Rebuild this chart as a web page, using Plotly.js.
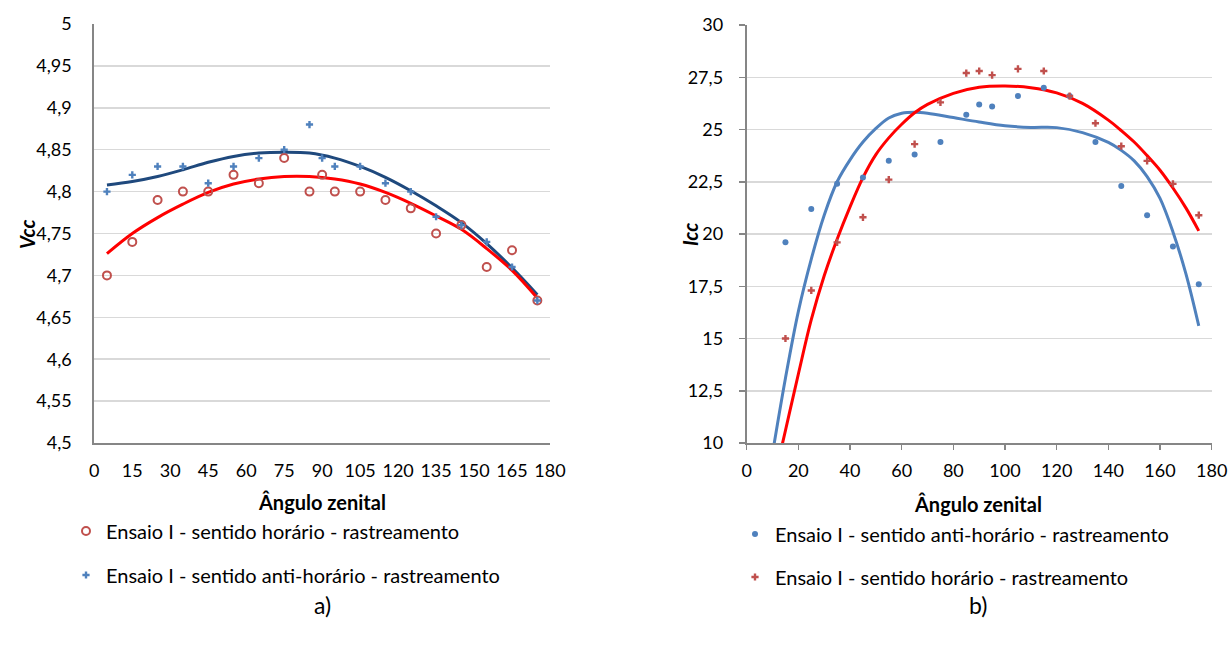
<!DOCTYPE html>
<html>
<head>
<meta charset="utf-8">
<script src="https://cdn.plot.ly/plotly-3.0.1.min.js"></script>
<style>
html,body{margin:0;padding:0;background:#fff;}
#chart{width:1231px;height:645px;}
</style>
</head>
<body>
<div id="chart"></div>
<script>
// ---------- Data: chart a) Vcc ----------
const anguloA = [5,15,25,35,45,55,65,75,85,90,95,105,115,125,135,145,155,165,175];
const vccHorario = [4.70,4.74,4.79,4.80,4.80,4.82,4.81,4.84,4.80,4.82,4.80,4.80,4.79,4.78,4.75,4.76,4.71,4.73,4.67];
const vccAntiHorario = [4.80,4.82,4.83,4.83,4.81,4.83,4.84,4.85,4.88,4.84,4.83,4.83,4.81,4.80,4.77,4.76,4.74,4.71,4.67];
// trendlines
const trendAngA = [5,15,25,35,45,55,65,75,85,95,105,115,125,135,145,155,165,175];
const trendVccAnti = [4.808,4.812,4.818,4.826,4.835,4.842,4.846,4.847,4.846,4.840,4.830,4.817,4.801,4.783,4.763,4.738,4.709,4.677];
const trendVccHor = [4.726,4.750,4.769,4.785,4.799,4.809,4.815,4.818,4.818,4.815,4.809,4.799,4.786,4.771,4.755,4.732,4.706,4.673];

// ---------- Data: chart b) Icc ----------
const anguloB = [15,25,35,45,55,65,75,85,90,95,105,115,125,135,145,155,165,175];
const iccAntiHorario = [19.6,21.2,22.4,22.7,23.5,23.8,24.4,25.7,26.2,26.1,26.6,27.0,26.6,24.4,22.3,20.9,19.4,17.6];
const iccHorario = [15.0,17.3,19.6,20.8,22.6,24.3,26.3,27.7,27.8,27.6,27.9,27.8,26.6,25.3,24.2,23.5,22.4,20.9];
const trendAngB = [10,15,20,25,30,35,40,45,50,55,60,65,70,80,90,100,110,120,130,140,145,150,155,160,165,170,175];
const trendIccAnti = [9.5,13.1,16.3,18.8,20.9,22.5,23.55,24.4,25.05,25.55,25.78,25.83,25.78,25.57,25.36,25.18,25.10,25.09,24.85,24.38,24.0,23.5,22.75,21.7,20.1,18.1,15.6];
const trendIccHor = [7.9,10.6,13.3,15.9,18.0,19.75,21.3,22.7,23.8,24.6,25.25,25.8,26.2,26.73,27.02,27.08,27.0,26.75,26.25,25.45,24.95,24.4,23.75,23.05,22.2,21.25,20.15];

// ---------- Tick labels ----------
const tickValsVcc = [4.5,4.55,4.6,4.65,4.7,4.75,4.8,4.85,4.9,4.95,5];
const tickTextVcc = ["4,5","4,55","4,6","4,65","4,7","4,75","4,8","4,85","4,9","4,95","5"];
const tickValsAngA = [0,15,30,45,60,75,90,105,120,135,150,165,180];
const tickValsIcc = [10,12.5,15,17.5,20,22.5,25,27.5,30];
const tickTextIcc = ["10","12,5","15","17,5","20","22,5","25","27,5","30"];
const tickValsAngB = [0,20,40,60,80,100,120,140,160,180];

const legendNames = {
  hor: "Ensaio I - sentido horário - rastreamento",
  anti: "Ensaio I - sentido anti-horário - rastreamento"
};
const titleX = "Ângulo zenital";
const titleVcc = "Vcc", titleIcc = "Icc";

const RED_M = "#C0504D", BLUE_M = "#4F81BD", NAVY = "#1F497D", RED_T = "#FF0000";
const FONT = "Lato, 'Open Sans', sans-serif";
const W = 1231, H = 645;
const px = v => v / W, py = v => 1 - v / H;

const traces = [
  {x: trendAngA, y: trendVccAnti, xaxis:'x', yaxis:'y', mode:'lines', line:{color:NAVY, width:3, shape:'spline'}, showlegend:false, hoverinfo:'skip'},
  {x: trendAngA, y: trendVccHor, xaxis:'x', yaxis:'y', mode:'lines', line:{color:RED_T, width:3, shape:'spline'}, showlegend:false, hoverinfo:'skip'},
  {x: anguloA, y: vccHorario, xaxis:'x', yaxis:'y', mode:'markers', name: legendNames.hor, legend:'legend',
   marker:{symbol:'circle-open', size:8, color:RED_M, line:{width:2, color:RED_M}}},
  {x: anguloA, y: vccAntiHorario, xaxis:'x', yaxis:'y', mode:'markers', name: legendNames.anti, legend:'legend2',
   marker:{symbol:'cross', size:6, color:BLUE_M, line:{width:0}}},
  {x: trendAngB, y: trendIccAnti, xaxis:'x2', yaxis:'y2', mode:'lines', line:{color:BLUE_M, width:3, shape:'spline'}, showlegend:false, hoverinfo:'skip'},
  {x: trendAngB, y: trendIccHor, xaxis:'x2', yaxis:'y2', mode:'lines', line:{color:RED_T, width:3, shape:'spline'}, showlegend:false, hoverinfo:'skip'},
  {x: anguloB, y: iccAntiHorario, xaxis:'x2', yaxis:'y2', mode:'markers', name: legendNames.anti, legend:'legend3',
   marker:{symbol:'circle', size:6, color:BLUE_M}},
  {x: anguloB, y: iccHorario, xaxis:'x2', yaxis:'y2', mode:'markers', name: legendNames.hor, legend:'legend4',
   marker:{symbol:'cross', size:6, color:RED_M, line:{width:0}}}
];

const tickFont = {family: FONT, size: 18, color: '#000'};
const titleFont = {family: FONT, size: 20, color: '#000', weight: 'bold'};
const titleFontIt = {family: FONT, size: 20, color: '#000', weight: 'bold', style: 'italic'};
const legFont = {family: FONT, size: 20, color: '#000'};
const gridC = '#D9D9D9', axisC = '#868686';

function leg(xp, yp) {
  return {x: px(xp), y: py(yp), xanchor:'left', yanchor:'middle', font: legFont, bgcolor:'rgba(0,0,0,0)', borderwidth:0};
}
function ann(text, xp, yp, font, angle) {
  return {xref:'paper', yref:'paper', x: px(xp), y: py(yp), xanchor:'center', yanchor:'middle', text: text,
          showarrow:false, font: font, textangle: angle || 0};
}

const layout = {
  width: W, height: H,
  margin: {l:0, r:0, t:0, b:0},
  paper_bgcolor: '#fff', plot_bgcolor: '#fff',
  font: {family: FONT, color:'#000'},
  xaxis: {domain:[px(94.3), px(550)], anchor:'y', range:[0,180], tickvals: tickValsAngA,
    showgrid:false, zeroline:false, showline:true, linecolor:axisC, linewidth:2, ticks:'', tickfont: tickFont,
    ticklabelstandoff: 10},
  yaxis: {domain:[py(443), py(24)], anchor:'x', range:[4.5,5], tickvals: tickValsVcc, ticktext: tickTextVcc,
    showgrid:true, gridcolor:gridC, gridwidth:1.5, zeroline:false, showline:true, linecolor:axisC, linewidth:2,
    ticks:'', tickfont: tickFont, ticklabelstandoff: 17},
  xaxis2: {domain:[px(746.7), px(1211.7)], anchor:'y2', range:[0,180], tickvals: tickValsAngB,
    showgrid:false, zeroline:false, showline:true, linecolor:axisC, linewidth:2, ticks:'outside', ticklen:5, tickcolor:axisC, tickwidth:1.5, tickfont: tickFont,
    ticklabelstandoff: 5},
  yaxis2: {domain:[py(443), py(25)], anchor:'x2', range:[10,30], tickvals: tickValsIcc, ticktext: tickTextIcc,
    showgrid:true, gridcolor:gridC, gridwidth:1.5, zeroline:false, showline:true, linecolor:axisC, linewidth:2,
    ticks:'outside', ticklen:6, tickcolor:axisC, tickwidth:1.5, tickfont: tickFont, ticklabelstandoff: 12},
  legend: leg(66, 531),
  legend2: leg(66, 575),
  legend3: leg(735, 534),
  legend4: leg(735, 577),
  annotations: [
    ann(titleX, 322, 502, titleFont),
    ann(titleX, 978, 504, titleFont),
    ann(titleVcc, 27, 234, titleFontIt, -90),
    ann(titleIcc, 690, 234, titleFontIt, -90),
    ann('a)', 322, 605, {family:FONT, size:23, color:'#000'}),
    ann('b)', 978, 605, {family:FONT, size:23, color:'#000'})
  ]
};

Plotly.newPlot('chart', traces, layout, {displayModeBar:false, staticPlot:true});
</script>
</body>
</html>
